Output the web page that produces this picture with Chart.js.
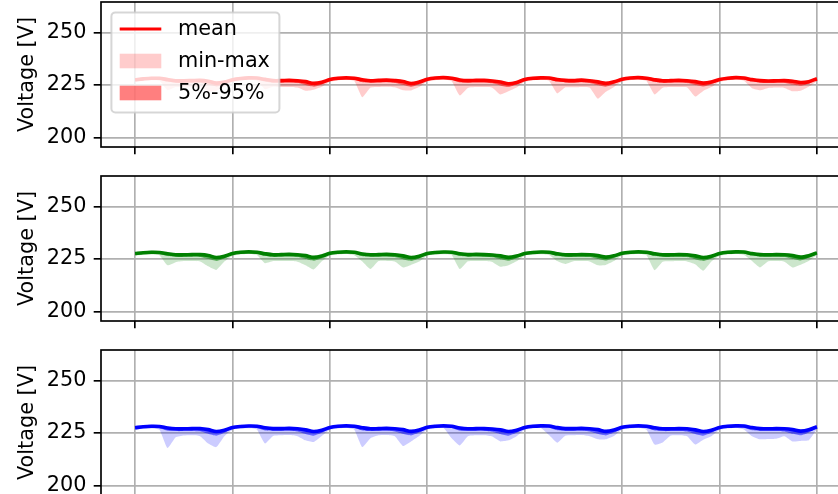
<!DOCTYPE html>
<html>
<head>
<meta charset="utf-8">
<script src="https://cdn.jsdelivr.net/npm/chart.js@4.4.0/dist/chart.umd.min.js"></script>
<style>
  html, body { margin: 0; padding: 0; background: #fff; overflow: hidden; width: 838px; height: 494px; }
  canvas { position: absolute; left: 0; }
</style>
</head>
<body>
<canvas id="phaseA" width="852" height="175" style="top:0px"></canvas>
<canvas id="phaseB" width="852" height="175" style="top:174px"></canvas>
<canvas id="phaseC" width="852" height="175" style="top:348px"></canvas>
<script>
// samples every 2 h, x axis in days
const STEP = 1 / 12;
const xTicks = [0, 1, 2, 3, 4, 5, 6, 7];
const yTicks = [200, 225, 250];
const yRange = [195.5, 264.5];
const yTitle = 'Voltage [V]';
const legendLabels = ['mean', 'min-max', '5%-95%'];

// phase A (red)
const meanA = [
  227.5,227.9,228.2,228.2,227.6,227.0,227.0,227.1,227.2,226.8,225.9,226.4,
  227.5,228.1,228.4,228.3,227.7,227.1,227.1,227.2,227.0,226.6,225.8,226.3,
  227.6,228.2,228.4,228.2,227.5,227.0,227.2,227.3,227.1,226.7,225.7,226.4,
  227.7,228.3,228.5,228.2,227.4,227.1,227.2,227.2,226.9,226.4,225.6,226.2,
  227.6,228.2,228.4,228.3,227.6,227.2,227.1,227.3,227.0,226.5,225.8,226.5,
  227.7,228.3,228.5,228.2,227.5,227.0,227.1,227.2,227.0,226.6,225.9,226.4,
  227.6,228.2,228.5,228.3,227.6,227.1,226.9,227.0,227.1,226.8,226.2,226.6,
  228.0];
const maxA = [
  228.2,228.6,228.9,228.9,228.3,227.7,227.6,227.8,227.9,227.5,226.7,227.1,
  228.2,228.8,229.1,229.0,228.4,227.8,227.8,227.9,227.7,227.3,226.6,227.0,
  228.3,228.9,229.1,228.9,228.2,227.7,227.9,228.0,227.8,227.4,226.5,227.1,
  228.4,229.0,229.2,228.9,228.1,227.8,227.9,227.9,227.6,227.1,226.4,226.9,
  228.3,228.9,229.1,229.0,228.3,227.9,227.8,228.0,227.7,227.2,226.6,227.2,
  228.4,229.0,229.2,228.9,228.2,227.7,227.8,227.9,227.7,227.3,226.7,227.1,
  228.3,228.9,229.2,229.0,228.3,227.8,227.6,227.7,227.8,227.5,226.9,227.3,
  228.7];
const p95A = [
  227.9,228.3,228.6,228.6,228.0,227.4,227.4,227.5,227.6,227.2,226.3,226.8,
  227.9,228.5,228.8,228.7,228.1,227.5,227.5,227.6,227.4,227.0,226.2,226.7,
  228.0,228.6,228.8,228.6,227.9,227.4,227.6,227.7,227.5,227.1,226.1,226.8,
  228.1,228.7,228.9,228.6,227.8,227.5,227.6,227.6,227.3,226.8,226.0,226.6,
  228.0,228.6,228.8,228.7,228.0,227.6,227.5,227.7,227.4,226.9,226.2,226.9,
  228.1,228.7,228.9,228.6,227.9,227.4,227.5,227.6,227.4,227.0,226.3,226.8,
  228.0,228.6,228.9,228.7,228.0,227.5,227.3,227.4,227.5,227.2,226.6,227.0,
  228.4];
const p5A = [
  226.9,227.3,227.6,227.5,226.5,226.0,226.0,226.1,226.1,225.2,224.3,225.4,
  226.9,227.5,227.8,227.6,226.6,226.1,226.1,226.2,225.9,225.0,224.2,225.3,
  227.0,227.6,227.8,227.5,226.3,226.0,226.2,226.3,226.0,225.1,224.1,225.4,
  227.1,227.7,227.9,227.5,226.2,226.1,226.2,226.2,225.8,224.8,224.0,225.2,
  227.0,227.6,227.8,227.6,226.5,226.2,226.1,226.3,225.9,224.9,224.2,225.5,
  227.1,227.7,227.9,227.5,226.4,226.0,226.1,226.2,225.9,225.0,224.3,225.4,
  227.0,227.6,227.9,227.6,226.5,226.1,225.9,226.0,226.0,225.2,224.6,225.6,
  227.4];
const minA = [
  226.5,227.0,227.3,227.0,222.5,224.0,223.8,223.9,224.0,222.0,222.2,224.0,
  226.4,227.1,227.5,227.0,223.0,224.2,224.0,224.1,223.8,222.3,222.8,224.2,
  226.6,227.2,227.5,226.9,219.2,223.8,224.1,224.2,223.9,222.5,222.4,224.0,
  226.7,227.3,227.6,226.8,220.0,223.6,224.0,224.0,223.7,220.5,222.0,223.8,
  226.6,227.2,227.5,227.0,221.0,223.9,223.9,224.1,223.8,218.5,221.8,224.1,
  226.7,227.3,227.6,226.9,220.5,223.7,224.0,224.0,223.9,219.5,222.2,224.0,
  226.6,227.2,227.6,227.0,223.5,222.5,223.6,223.8,223.6,222.0,222.3,224.2,
  226.8];

// phase B (green)
const meanB = [
  227.6,228.0,228.2,228.1,227.5,227.0,227.0,227.1,227.1,226.7,225.7,226.3,
  227.6,228.2,228.4,228.2,227.5,227.0,227.1,227.2,227.0,226.6,225.8,226.4,
  227.7,228.2,228.4,228.2,227.4,227.0,227.1,227.2,227.0,226.5,225.7,226.3,
  227.6,228.1,228.3,228.2,227.5,227.1,227.2,227.1,226.9,226.5,225.8,226.4,
  227.6,228.1,228.3,228.2,227.5,227.0,227.0,227.1,227.0,226.6,225.9,226.5,
  227.7,228.2,228.4,228.2,227.5,227.0,227.0,227.1,227.0,226.5,225.7,226.3,
  227.6,228.2,228.4,228.3,227.6,227.1,227.0,227.1,227.0,226.6,225.9,226.6,
  227.9];
const maxB = [
  228.3,228.7,228.9,228.8,228.2,227.7,227.7,227.8,227.8,227.4,226.4,227.0,
  228.3,228.9,229.1,228.9,228.2,227.7,227.8,227.9,227.7,227.3,226.5,227.1,
  228.4,228.9,229.1,228.9,228.1,227.7,227.8,227.9,227.7,227.2,226.4,227.0,
  228.3,228.8,229.0,228.9,228.2,227.8,227.9,227.8,227.6,227.2,226.5,227.1,
  228.3,228.8,229.0,228.9,228.2,227.7,227.7,227.8,227.7,227.3,226.6,227.2,
  228.4,228.9,229.1,228.9,228.2,227.7,227.7,227.8,227.7,227.2,226.4,227.0,
  228.3,228.9,229.1,229.0,228.3,227.8,227.7,227.8,227.7,227.3,226.6,227.3,
  228.6];
const p95B = [
  228.0,228.4,228.6,228.5,227.9,227.4,227.4,227.5,227.5,227.1,226.1,226.7,
  228.0,228.6,228.8,228.6,227.9,227.4,227.5,227.6,227.4,227.0,226.2,226.8,
  228.1,228.6,228.8,228.6,227.8,227.4,227.5,227.6,227.4,226.9,226.1,226.7,
  228.0,228.5,228.7,228.6,227.9,227.5,227.6,227.5,227.3,226.9,226.2,226.8,
  228.0,228.5,228.7,228.6,227.9,227.4,227.4,227.5,227.4,227.0,226.3,226.9,
  228.1,228.6,228.8,228.6,227.9,227.4,227.4,227.5,227.4,226.9,226.1,226.7,
  228.0,228.6,228.8,228.7,228.0,227.5,227.4,227.5,227.4,227.0,226.3,227.0,
  228.3];
const p5B = [
  227.0,227.4,227.6,227.4,226.4,226.0,226.0,226.1,226.0,225.1,224.1,225.3,
  227.0,227.6,227.8,227.5,226.4,226.0,226.1,226.2,225.9,225.0,224.2,225.4,
  227.1,227.6,227.8,227.5,226.3,226.0,226.1,226.2,225.9,224.9,224.1,225.3,
  227.0,227.5,227.7,227.5,226.4,226.1,226.2,226.1,225.8,224.9,224.2,225.4,
  227.0,227.5,227.7,227.5,226.4,226.0,226.0,226.1,225.9,225.0,224.3,225.5,
  227.1,227.6,227.8,227.5,226.4,226.0,226.0,226.1,225.9,224.9,224.1,225.3,
  227.0,227.6,227.8,227.6,226.5,226.1,226.0,226.1,225.9,225.0,224.3,225.6,
  227.3];
const minB = [
  226.6,227.0,227.2,226.8,222.0,223.5,224.0,224.0,223.8,221.5,219.8,223.8,
  226.6,227.2,227.4,226.9,223.0,224.0,224.1,224.0,223.7,222.0,220.0,223.9,
  226.7,227.2,227.4,226.8,223.8,220.2,224.0,224.1,223.8,221.0,222.2,223.8,
  226.6,227.1,227.3,226.9,220.2,223.9,224.1,224.0,223.6,221.3,222.0,223.9,
  226.6,227.1,227.3,226.9,224.0,222.6,223.9,224.0,223.8,222.0,222.2,224.0,
  226.7,227.2,227.4,226.8,219.7,223.7,223.9,224.0,223.8,222.5,219.4,223.8,
  226.6,227.2,227.4,227.0,224.1,221.0,223.9,224.0,223.7,221.0,222.3,224.1,
  226.9];

// phase C (blue)
const meanC = [
  227.5,228.0,228.2,228.1,227.4,227.0,227.0,227.1,227.1,226.6,225.7,226.3,
  227.6,228.1,228.3,228.2,227.5,227.1,227.1,227.2,227.0,226.5,225.7,226.3,
  227.6,228.2,228.4,228.2,227.5,227.0,227.1,227.2,227.0,226.6,225.8,226.4,
  227.7,228.2,228.4,228.2,227.4,227.0,227.1,227.1,226.9,226.5,225.7,226.3,
  227.6,228.2,228.4,228.3,227.6,227.1,227.1,227.2,227.0,226.6,225.8,226.4,
  227.7,228.2,228.4,228.2,227.5,227.0,227.0,227.1,227.0,226.5,225.7,226.3,
  227.6,228.2,228.4,228.3,227.6,227.1,227.0,227.1,227.0,226.6,225.9,226.5,
  228.0];
const maxC = [
  228.2,228.7,228.9,228.8,228.1,227.7,227.7,227.8,227.8,227.3,226.4,227.0,
  228.3,228.8,229.0,228.9,228.2,227.8,227.8,227.9,227.7,227.2,226.4,227.0,
  228.3,228.9,229.1,228.9,228.2,227.7,227.8,227.9,227.7,227.3,226.5,227.1,
  228.4,228.9,229.1,228.9,228.1,227.7,227.8,227.8,227.6,227.2,226.4,227.0,
  228.3,228.9,229.1,229.0,228.3,227.8,227.8,227.9,227.7,227.3,226.5,227.1,
  228.4,228.9,229.1,228.9,228.2,227.7,227.7,227.8,227.7,227.2,226.4,227.0,
  228.3,228.9,229.1,229.0,228.3,227.8,227.7,227.8,227.7,227.3,226.6,227.2,
  228.7];
const p95C = [
  227.9,228.4,228.6,228.5,227.8,227.4,227.4,227.5,227.5,227.0,226.1,226.7,
  228.0,228.5,228.7,228.6,227.9,227.5,227.5,227.6,227.4,226.9,226.1,226.7,
  228.0,228.6,228.8,228.6,227.9,227.4,227.5,227.6,227.4,227.0,226.2,226.8,
  228.1,228.6,228.8,228.6,227.8,227.4,227.5,227.5,227.3,226.9,226.1,226.7,
  228.0,228.6,228.8,228.7,228.0,227.5,227.5,227.6,227.4,227.0,226.2,226.8,
  228.1,228.6,228.8,228.6,227.9,227.4,227.4,227.5,227.4,226.9,226.1,226.7,
  228.0,228.6,228.8,228.7,228.0,227.5,227.4,227.5,227.4,227.0,226.3,226.9,
  228.4];
const p5C = [
  226.9,227.4,227.6,227.3,226.1,225.9,225.9,226.0,225.8,224.6,223.7,225.1,
  227.0,227.5,227.7,227.4,226.2,226.0,226.0,226.1,225.7,224.5,223.7,225.1,
  227.0,227.6,227.8,227.4,226.2,225.9,226.0,226.1,225.7,224.6,223.8,225.2,
  227.1,227.6,227.8,227.4,226.1,225.9,226.0,226.0,225.6,224.5,223.7,225.1,
  227.0,227.6,227.8,227.5,226.3,226.0,226.0,226.1,225.7,224.6,223.8,225.2,
  227.1,227.6,227.8,227.4,226.2,225.9,225.9,226.0,225.7,224.5,223.7,225.1,
  227.0,227.6,227.8,227.5,226.3,226.0,225.9,226.0,225.7,224.6,223.9,225.3,
  227.4];
const minC = [
  226.5,227.0,227.2,226.6,217.9,223.0,223.8,223.9,223.5,220.0,218.3,223.5,
  226.6,227.1,227.3,226.7,220.0,223.6,223.9,224.0,223.5,221.5,220.7,223.6,
  226.6,227.2,227.4,226.6,218.3,222.5,223.9,224.0,223.4,218.8,221.0,223.6,
  226.7,227.2,227.4,222.5,219.1,223.5,223.9,223.9,223.3,221.0,221.5,223.5,
  226.6,227.2,227.4,224.0,220.4,223.7,223.9,224.0,223.4,222.0,222.0,223.6,
  226.7,227.2,227.4,226.6,219.5,220.5,223.8,223.9,223.4,219.5,221.8,223.5,
  226.6,227.2,227.4,226.7,223.5,222.0,222.2,222.3,223.5,221.0,221.2,221.5,
  226.9];

const phases = [
  { id: 'phaseA', rgb: '255,0,0', mean: meanA, max: maxA, p95: p95A, p5: p5A, min: minA, legend: true },
  { id: 'phaseB', rgb: '0,128,0', mean: meanB, max: maxB, p95: p95B, p5: p5B, min: minB, legend: false },
  { id: 'phaseC', rgb: '0,0,255', mean: meanC, max: maxC, p95: p95C, p5: p5C, min: minC, legend: false }
];

const FS = 20.8;           // 10pt at 150 dpi
const LW = 3.1;            // legend handle width
const MEAN_LW = 3.6;       // mean curve looks heavier with the band under it
const THIN = 1.67;         // spines, grid, ticks
Chart.defaults.font.family = "'DejaVu Sans', sans-serif";
Chart.defaults.font.size = FS;
Chart.defaults.color = '#000';

const toPts = arr => arr.map((v, i) => ({ x: i * STEP, y: v }));

const frame = {
  id: 'frame',
  afterDraw(chart, args, opts) {
    const { ctx, chartArea: a } = chart;
    ctx.save();
    ctx.strokeStyle = '#000';
    ctx.lineWidth = THIN;
    ctx.strokeRect(a.left, a.top, a.right - a.left, a.bottom - a.top);
    ctx.restore();
    if (!opts.legend) return;
    // legend box, upper left
    const x0 = a.left + 10.4, y0 = a.top + 10.4, w = 168, h = 100, r = 4;
    ctx.save();
    ctx.beginPath();
    ctx.roundRect(x0, y0, w, h, r);
    ctx.fillStyle = 'rgba(255,255,255,0.8)';
    ctx.fill();
    ctx.lineWidth = 2;
    ctx.strokeStyle = 'rgba(204,204,204,0.8)';
    ctx.stroke();
    const hx = x0 + 8.3, hw = 41.6;
    const rows = [y0 + 16.6, y0 + 48.6, y0 + 80.6];
    ctx.strokeStyle = `rgb(${opts.rgb})`;
    ctx.lineWidth = LW;
    ctx.beginPath();
    ctx.moveTo(hx, rows[0]);
    ctx.lineTo(hx + hw, rows[0]);
    ctx.stroke();
    ctx.fillStyle = `rgba(${opts.rgb},0.2)`;
    ctx.fillRect(hx, rows[1] - 7.3, hw, 14.6);
    ctx.fillStyle = `rgba(${opts.rgb},0.5)`;
    ctx.fillRect(hx, rows[2] - 7.3, hw, 14.6);
    ctx.fillStyle = '#000';
    ctx.font = `${FS}px 'DejaVu Sans'`;
    ctx.textBaseline = 'middle';
    legendLabels.forEach((t, i) => ctx.fillText(t, hx + hw + 16.6, rows[i] + 1));
    ctx.restore();
  }
};

phases.forEach(ph => {
  const band = (arr, fill, alpha, order) => ({
    data: toPts(arr), borderWidth: 0, borderColor: 'transparent',
    backgroundColor: `rgba(${ph.rgb},${alpha})`, fill, pointRadius: 0, tension: 0.15, order
  });
  new Chart(document.getElementById(ph.id), {
    type: 'line',
    data: {
      datasets: [
        { label: 'mean', data: toPts(ph.mean), borderColor: `rgb(${ph.rgb})`, borderWidth: MEAN_LW,
          pointRadius: 0, tension: 0.3, fill: false, order: 0 },
        band(ph.p95, '+1', 0.5, 1),
        band(ph.p5, false, 0.5, 1),
        band(ph.max, '+1', 0.2, 2),
        band(ph.min, false, 0.2, 2)
      ]
    },
    plugins: [frame],
    options: {
      responsive: false, animation: false, events: [],
      layout: { padding: { top: 2, right: 1, left: 0, bottom: 0 } },
      plugins: { legend: { display: false }, tooltip: { enabled: false }, frame: { legend: ph.legend, rgb: ph.rgb } },
      scales: {
        x: {
          type: 'linear', min: -0.35, max: 7.35,
          afterBuildTicks: s => { s.ticks = xTicks.map(v => ({ value: v })); },
          afterFit: s => { s.height = 28; s.paddingLeft = 0; s.paddingRight = 0; },
          grid: { color: '#b0b0b0', lineWidth: THIN, tickLength: 7.3, tickColor: '#000', tickWidth: THIN },
          border: { display: false },
          ticks: { display: false }
        },
        y: {
          min: yRange[0], max: yRange[1],
          afterBuildTicks: s => { s.ticks = yTicks.map(v => ({ value: v })); },
          afterFit: s => { s.width = 101; s.paddingTop = 0; s.paddingBottom = 0; },
          grid: { color: '#b0b0b0', lineWidth: THIN, tickLength: 7.3, tickColor: '#000', tickWidth: THIN },
          border: { display: false },
          ticks: { padding: 7.3, color: '#000', font: { size: FS } },
          title: { display: true, text: yTitle, color: '#000', font: { size: FS, lineHeight: 1.2 }, padding: { top: 15.5, bottom: 0 } }
        }
      }
    }
  });
});
</script>
</body>
</html>
